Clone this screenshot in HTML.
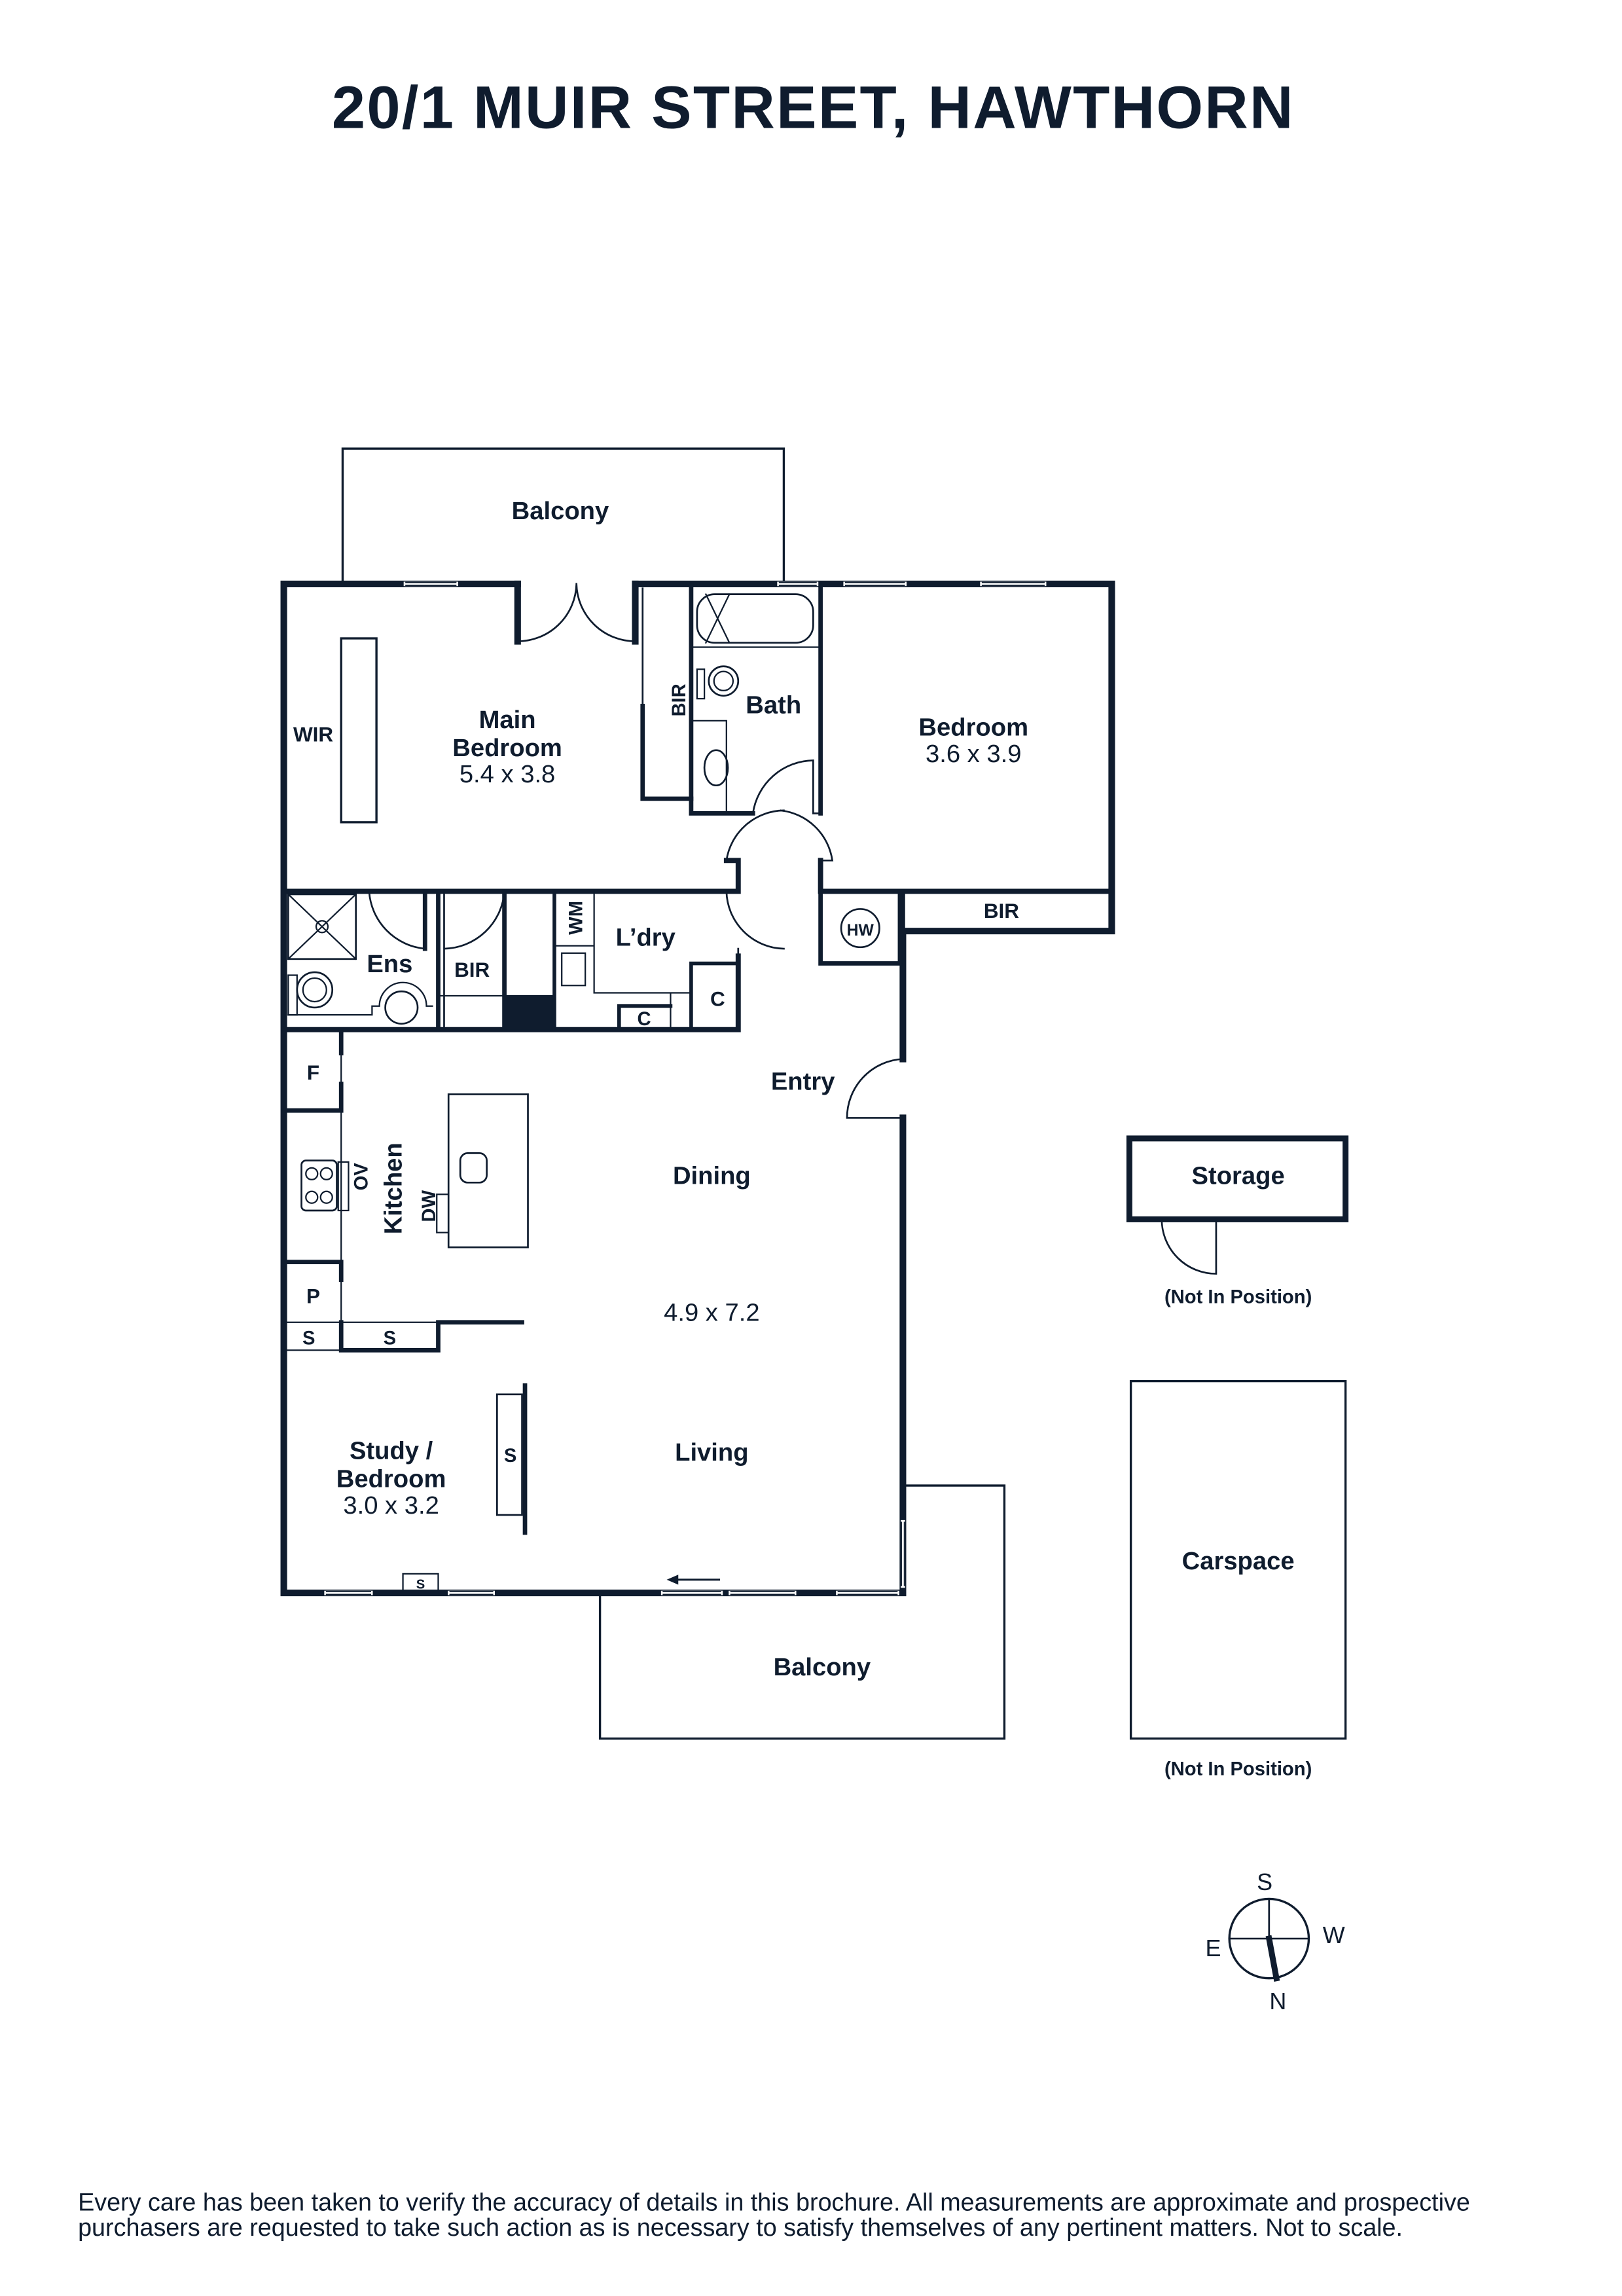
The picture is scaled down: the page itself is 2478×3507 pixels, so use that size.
<!DOCTYPE html>
<html><head><meta charset="utf-8"><style>
html,body{margin:0;padding:0;background:#fff;}
svg{display:block;}
text{font-family:"Liberation Sans",sans-serif;fill:#0f1c2e;}
.b{font-weight:bold;}
</style></head><body>
<svg width="2478" height="3507" viewBox="0 0 1103 1561" xmlns="http://www.w3.org/2000/svg">
<g stroke="#0f1c2e" fill="none" stroke-linecap="square">
<path d="M233 397 V305 H533 V397" stroke-width="1.5"/>
<path d="M408 1083 V1182 H683 V1010 H616" stroke-width="1.5"/>
<g stroke-width="4.5">
<path d="M352 397 H193 V1083 H614 V760"/>
<path d="M432 397 H756 V633 H614 V720"/>
<path d="M352 397 V436 M432 397 V436"/>
</g>
<g stroke="#fff" stroke-width="3">
<path d="M276 397 H310 M530 397 H555 M575 397 H615 M668 397 H710"/>
<path d="M222 1083 H252 M306 1083 H335 M451 1083 H490 M497 1083 H540 M570 1083 H610"/>
<path d="M614 1035 V1078"/>
</g>
<g stroke-width="0.8">
<path d="M276 396 H310 M276 398 H310 M530 396 H555 M530 398 H555 M575 396 H615 M575 398 H615 M668 396 H710 M668 398 H710"/>
<path d="M222 1082 H252 M222 1084 H252 M306 1082 H335 M306 1084 H335 M451 1082 H490 M451 1084 H490 M497 1082 H540 M497 1084 H540 M570 1082 H610 M570 1084 H610"/>
<path d="M613 1035 V1078 M615 1035 V1078"/>
</g>
<path d="M352 436 A40 40 0 0 0 392 397 M432 436 A40 40 0 0 1 392 397" stroke-width="1.2"/>
<rect x="232" y="434" width="24" height="125" stroke-width="1.5"/>
<path d="M437 400 V543 H470" stroke-width="1.2"/>
<path d="M437 480 V543 H470" stroke-width="3"/>
<path d="M470 397 V553 H512" stroke-width="3"/>
<path d="M558 397 V553 H553 V517 A42 42 0 0 0 512 553" stroke-width="1.2"/>
<path d="M558 400 V553" stroke-width="3"/>
<path d="M470 440 H558 M470 490 H494 V552" stroke-width="1"/>
<rect x="474" y="404" width="79" height="33" rx="12" stroke-width="1.2"/>
<path d="M480 404 L496 437 M496 404 L480 437" stroke-width="1"/>
<rect x="474" y="455" width="5" height="20" stroke-width="1"/>
<circle cx="492" cy="463" r="10" stroke-width="1.2"/><circle cx="492" cy="463" r="6.5" stroke-width="1"/>
<ellipse cx="487" cy="522" rx="8" ry="12" stroke-width="1.2"/>
<path d="M193 606 H502 V585 H494" stroke-width="3.5"/>
<path d="M494 585 A40 40 0 0 1 533 551 M558 585 H566 A40 40 0 0 0 531 551" stroke-width="1.2"/>
<path d="M558 585 V606 H756" stroke-width="3.5"/>
<path d="M502 606 H494 A40 40 0 0 0 533 645 M502 645 V700" stroke-width="1.2"/>
<path d="M502 650 V700 H193" stroke-width="3.5"/>
<path d="M558 606 V655 H612 V606" stroke-width="3"/>
<circle cx="585" cy="631" r="13" stroke-width="1.2"/>
<path d="M614 606 V633" stroke-width="3"/>
<path d="M251 606 A42 42 0 0 0 289 645 V606 M302 606 V700 M302 645 A42 42 0 0 0 343 606 V700" stroke-width="1.2"/>
<path d="M289 606 V645 M298 606 V700 M343 606 V700" stroke-width="3"/>
<rect x="196" y="608" width="46" height="44" stroke-width="1.2"/>
<path d="M196 608 L242 652 M242 608 L196 652" stroke-width="1"/>
<circle cx="219" cy="630" r="4" stroke-width="1"/>
<rect x="196" y="663" width="6" height="27" stroke-width="1"/>
<circle cx="214" cy="673" r="12" stroke-width="1.2"/><circle cx="214" cy="673" r="8" stroke-width="1"/>
<path d="M196 690 H253 V684 H258 A16 16 0 0 1 290 684 H294" stroke-width="1"/>
<circle cx="273" cy="685" r="11" stroke-width="1.2"/>
<path d="M298 677 H377" stroke-width="1"/>
<rect x="343" y="677" width="34" height="23" fill="#0f1c2e" stroke="none"/>
<path d="M377 606 V700" stroke-width="2.5"/>
<path d="M377 643 H404 M404 606 V675 H456 V700 M456 675 H470 V700" stroke-width="1"/>
<rect x="382" y="648" width="16" height="22" stroke-width="1"/>
<path d="M421 700 V684 H456" stroke-width="2.5"/>
<path d="M470 700 V655 H502" stroke-width="2.5"/>
<path d="M614 720 A40 40 0 0 0 576 760 H614" stroke-width="1.2"/>
<path d="M232 700 V898" stroke-width="1"/>
<path d="M232 700 V716 M232 737 V755 M193 755 H232 M193 858 H232 M232 858 V870" stroke-width="3"/>
<rect x="205" y="789" width="24" height="34" rx="3" stroke-width="1.2"/>
<circle cx="212" cy="798" r="4" stroke-width="1"/><circle cx="222" cy="798" r="4" stroke-width="1"/>
<circle cx="212" cy="814" r="4" stroke-width="1"/><circle cx="222" cy="814" r="4" stroke-width="1"/>
<rect x="230" y="790" width="7" height="33" stroke-width="1"/>
<rect x="305" y="744" width="54" height="104" stroke-width="1.2"/>
<rect x="313" y="784" width="18" height="20" rx="5" stroke-width="1.2"/>
<rect x="297" y="812" width="8" height="26" stroke-width="1"/>
<path d="M193 899 H232 M193 918 H232" stroke-width="1"/>
<path d="M232 899 V918 H298 V899 H355" stroke-width="3"/>
<path d="M232 899 H298" stroke-width="1"/>
<rect x="338" y="948" width="17" height="82" stroke-width="1.2"/>
<path d="M357 942 V1042" stroke-width="3"/>
<rect x="274" y="1070" width="24" height="12" stroke-width="1"/>
<path d="M489 1074 H458" stroke-width="1.3"/>
<path d="M454 1074 L461 1071 V1077 Z" fill="#0f1c2e" stroke-width="0.5"/>
<rect x="768" y="774" width="147" height="55" stroke-width="4"/>
<path d="M790 829 A37 37 0 0 0 827 866 V829" stroke-width="1.2"/>
<rect x="769" y="939" width="146" height="243" stroke-width="1.5"/>
<circle cx="863" cy="1318" r="27" stroke-width="1.5"/>
<path d="M836 1318 H890 M863 1291 V1318" stroke-width="1.2"/>
<path d="M863 1318 L868 1345" stroke-width="4"/>
</g>
<text x="553" y="87" font-size="41" letter-spacing="1" text-anchor="middle" font-weight="bold">20/1 MUIR STREET, HAWTHORN</text>
<g font-size="17" text-anchor="middle">
<text class="b" x="381" y="353">Balcony</text>
<text class="b" x="345" y="495">Main</text>
<text class="b" x="345" y="514">Bedroom</text>
<text x="345" y="532">5.4 x 3.8</text>
<text class="b" x="213" y="504" font-size="14">WIR</text>
<text class="b" x="526" y="485">Bath</text>
<text class="b" x="662" y="500">Bedroom</text>
<text x="662" y="518">3.6 x 3.9</text>
<text class="b" x="681" y="624" font-size="14">BIR</text>
<text class="b" x="585" y="636" font-size="11">HW</text>
<text class="b" x="265" y="661">Ens</text>
<text class="b" x="321" y="664" font-size="14">BIR</text>
<text class="b" x="439" y="643">L’dry</text>
<text class="b" x="488" y="684" font-size="14">C</text>
<text class="b" x="438" y="697" font-size="13">C</text>
<text class="b" x="546" y="741">Entry</text>
<text class="b" x="213" y="734" font-size="14">F</text>
<text class="b" x="484" y="805">Dining</text>
<text x="484" y="898">4.9 x 7.2</text>
<text class="b" x="213" y="886" font-size="14">P</text>
<text class="b" x="210" y="914" font-size="13">S</text>
<text class="b" x="265" y="914" font-size="13">S</text>
<text class="b" x="266" y="992">Study /</text>
<text class="b" x="266" y="1011">Bedroom</text>
<text x="266" y="1029">3.0 x 3.2</text>
<text class="b" x="347" y="994" font-size="13">S</text>
<text class="b" x="286" y="1080" font-size="9">S</text>
<text class="b" x="484" y="993">Living</text>
<text class="b" x="559" y="1139">Balcony</text>
<text class="b" x="842" y="805">Storage</text>
<text class="b" x="842" y="886" font-size="13">(Not In Position)</text>
<text class="b" x="842" y="1067">Carspace</text>
<text class="b" x="842" y="1207" font-size="13">(Not In Position)</text>
<text x="860" y="1285" font-size="16">S</text>
<text x="869" y="1366" font-size="16">N</text>
<text x="825" y="1330" font-size="16">E</text>
<text x="907" y="1321" font-size="16">W</text>
<text class="b" x="461" y="481" font-size="13" transform="rotate(-90 461 476)">BIR</text>
<text class="b" x="391" y="629" font-size="13" transform="rotate(-90 391 624)">WM</text>
<text class="b" x="250" y="810" font-size="13" transform="rotate(-90 245 805)">OV</text>
<text class="b" x="272" y="819" transform="rotate(-90 267 813)">Kitchen</text>
<text class="b" x="296" y="830" font-size="13" transform="rotate(-90 291 825)">DW</text>
</g>
<g font-size="16.8">
<text x="53" y="1503">Every care has been taken to verify the accuracy of details in this brochure. All measurements are approximate and prospective</text>
<text x="53" y="1520">purchasers are requested to take such action as is necessary to satisfy themselves of any pertinent matters. Not to scale.</text>
</g>
</svg>
</body></html>
